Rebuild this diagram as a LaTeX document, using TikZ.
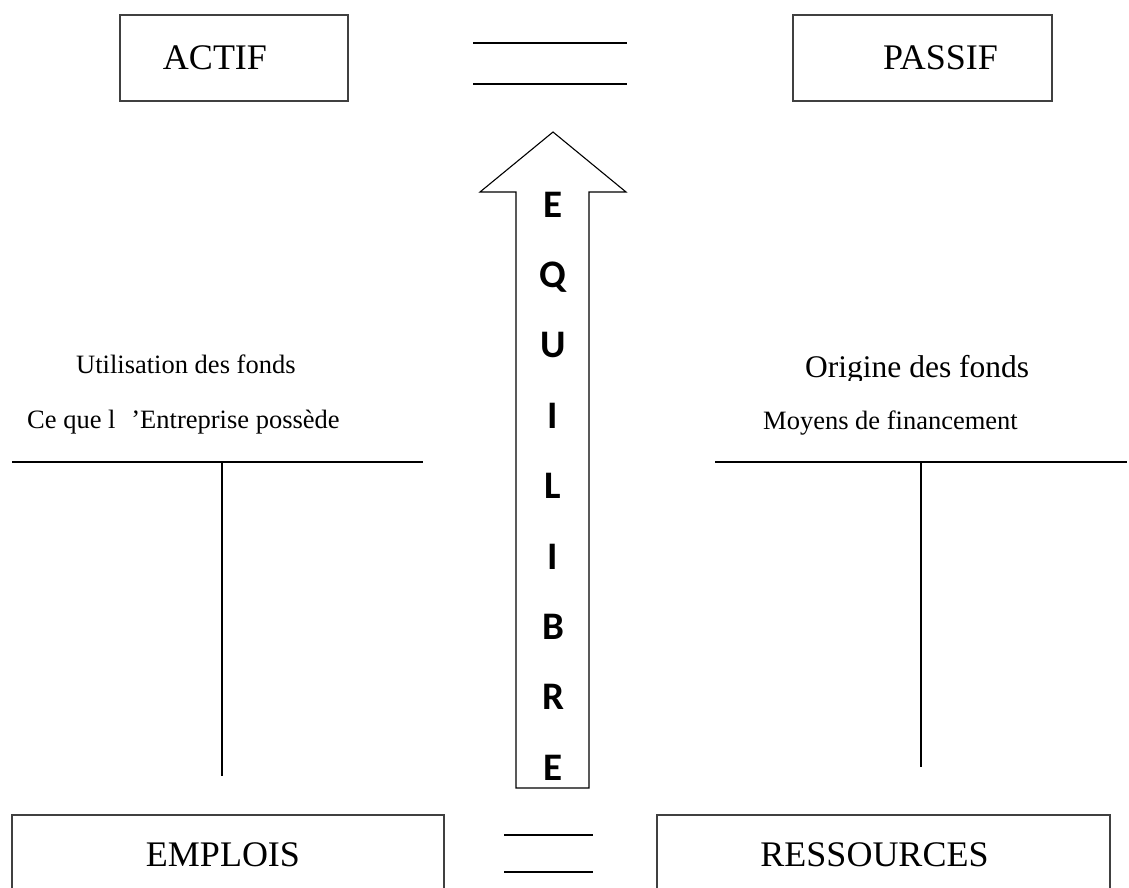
\documentclass[tikz,border=0pt]{standalone}
\usepackage{fontspec}
\setmainfont{Liberation Serif}
\newfontfamily\calib{Carlito}
\begin{document}
\begin{tikzpicture}[x=1pt,y=-1pt,
  bigbox/.style={draw=black!75, line width=1.1pt, inner sep=0pt, font=\fontsize{36}{36}\selectfont},
  eqline/.style={line width=2.4pt},
  tline/.style={line width=2pt},
  small/.style={inner sep=0pt, anchor=base west, font=\fontsize{26.5}{26.5}\selectfont},
  letter/.style={inner sep=0pt, anchor=base, font=\calib\bfseries\fontsize{39}{39}\selectfont}]
\useasboundingbox (0,0) rectangle (1129,887);
\clip (0,0) rectangle (1129,887);

% boxes
\node[bigbox, minimum width=228pt, minimum height=86pt] (actif) at (234,58) {ACTIF\hspace*{38pt}};
\node[bigbox, minimum width=259pt, minimum height=86pt] (passif) at (922.5,58) {\hspace*{36pt}PASSIF};
\node[bigbox, minimum width=432pt, minimum height=80pt] (emplois) at (228,855) {EMPLOIS\hspace*{10pt}};
\node[bigbox, minimum width=453pt, minimum height=80pt] (ressources) at (883.5,855) {RESSOURCES\hspace*{18pt}};

% equal signs
\coordinate (t1a) at (473,43); \coordinate (t1b) at (627,43);
\coordinate (t2a) at (473,84); \coordinate (t2b) at (627,84);
\draw[eqline] (t1a) -- (t1b);
\draw[eqline] (t2a) -- (t2b);
\coordinate (b1a) at (504,835); \coordinate (b1b) at (593,835);
\coordinate (b2a) at (504,872); \coordinate (b2b) at (593,872);
\draw[eqline] (b1a) -- (b1b);
\draw[eqline] (b2a) -- (b2b);

% arrow
\draw[line width=1.1pt, line join=miter] (516,788) -- (516,192) -- (480,192) -- (553,132) -- (626,192) -- (589,192) -- (589,788) -- cycle;
\foreach \l [count=\i from 0] in {E,Q,U,I,L,I,B,R,E}{
  \node[letter] (L\i) at (553,{217+70.4*\i}) {\l};
}

% left T account
\coordinate (lh1) at (12,462); \coordinate (lh2) at (423,462);
\coordinate (lv1) at (222,462); \coordinate (lv2) at (222,776);
\draw[tline] (lh1) -- (lh2);
\draw[tline] (lv1) -- (lv2);
\node[small] (util) at (76,373) {Utilisation des fonds};
\node[small] (cequ) at (27,428) {Ce que l\hspace{0.6em}’Entreprise possède};

% right T account
\coordinate (rh1) at (715,462); \coordinate (rh2) at (1127,462);
\coordinate (rv1) at (921,462); \coordinate (rv2) at (921,767);
\draw[tline] (rh1) -- (rh2);
\draw[tline] (rv1) -- (rv2);
\begin{scope}
\clip (700,300) rectangle (1129,380.5);
\node[small, font=\fontsize{31.5}{31.5}\selectfont] (orig) at (805,377) {Origine des fonds};
\end{scope}
\node[small] (moy) at (763,429) {Moyens de financement};
\end{tikzpicture}
\end{document}
